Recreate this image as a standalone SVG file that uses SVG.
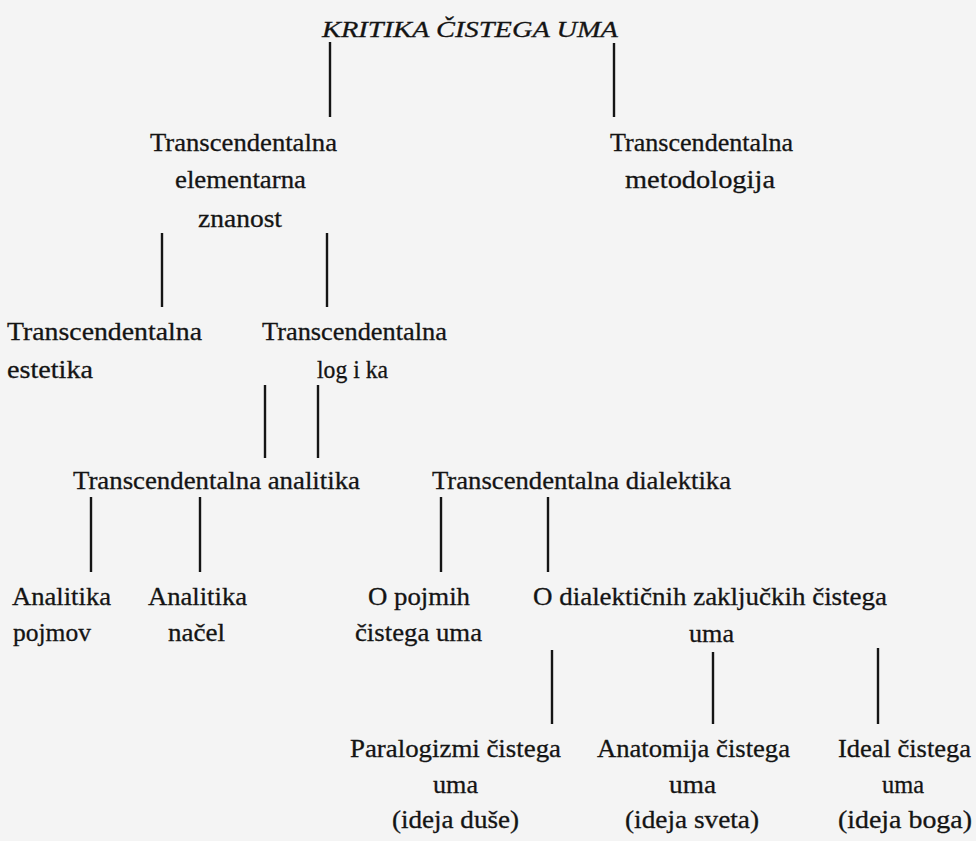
<svg xmlns="http://www.w3.org/2000/svg" width="976" height="841" viewBox="0 0 976 841">
<style>
  .t { font-family: "Liberation Serif", "Times New Roman", serif; font-size: 25px; fill: #141414; stroke: #141414; stroke-width: 0.3; }
  .ti { font-family: "Liberation Serif", "Times New Roman", serif; font-size: 24px; font-style: italic; fill: #141414; stroke: #141414; stroke-width: 0.3; }
  .c line { stroke: #141414; stroke-width: 2.4; }
</style>
<rect width="976" height="841" fill="#f4f4f4"/>

<g id="connectors" class="c">
  <line x1="330" y1="42" x2="330" y2="117"/>
  <line x1="614" y1="43" x2="614" y2="117"/>
  <line x1="162" y1="233" x2="162" y2="307"/>
  <line x1="327" y1="233" x2="327" y2="307"/>
  <line x1="265" y1="385" x2="265" y2="458"/>
  <line x1="318" y1="385" x2="318" y2="458"/>
  <line x1="91" y1="497" x2="91" y2="572"/>
  <line x1="200" y1="497" x2="200" y2="572"/>
  <line x1="441" y1="497" x2="441" y2="572"/>
  <line x1="548" y1="497" x2="548" y2="572"/>
  <line x1="552" y1="650" x2="552" y2="724"/>
  <line x1="713" y1="652" x2="713" y2="724"/>
  <line x1="878" y1="648" x2="878" y2="724"/>
</g>

<g id="kritika">
  <text class="ti" x="322" y="37" textLength="296" lengthAdjust="spacingAndGlyphs">KRITIKA ČISTEGA UMA</text>
</g>

<g id="elementarna">
  <text class="t" x="150" y="151" textLength="187" lengthAdjust="spacingAndGlyphs">Transcendentalna</text>
  <text class="t" x="175" y="188" textLength="131" lengthAdjust="spacingAndGlyphs">elementarna</text>
  <text class="t" x="198" y="227" textLength="84" lengthAdjust="spacingAndGlyphs">znanost</text>
</g>

<g id="metodologija">
  <text class="t" x="610" y="151" textLength="183" lengthAdjust="spacingAndGlyphs">Transcendentalna</text>
  <text class="t" x="625" y="188" textLength="150" lengthAdjust="spacingAndGlyphs">metodologija</text>
</g>

<g id="estetika">
  <text class="t" x="7" y="340" textLength="195" lengthAdjust="spacingAndGlyphs">Transcendentalna</text>
  <text class="t" x="7" y="378" textLength="86" lengthAdjust="spacingAndGlyphs">estetika</text>
</g>

<g id="logika">
  <text class="t" x="262" y="340" textLength="185" lengthAdjust="spacingAndGlyphs">Transcendentalna</text>
  <text class="t" x="317" y="378" textLength="71" lengthAdjust="spacingAndGlyphs">log i ka</text>
</g>

<g id="analitika">
  <text class="t" x="73" y="489" textLength="287" lengthAdjust="spacingAndGlyphs">Transcendentalna analitika</text>
</g>

<g id="dialektika">
  <text class="t" x="432" y="489" textLength="299" lengthAdjust="spacingAndGlyphs">Transcendentalna dialektika</text>
</g>

<g id="analitika-pojmov">
  <text class="t" x="12" y="605" textLength="99" lengthAdjust="spacingAndGlyphs">Analitika</text>
  <text class="t" x="13" y="641" textLength="78" lengthAdjust="spacingAndGlyphs">pojmov</text>
</g>

<g id="analitika-nacel">
  <text class="t" x="148" y="605" textLength="99" lengthAdjust="spacingAndGlyphs">Analitika</text>
  <text class="t" x="168" y="641" textLength="57" lengthAdjust="spacingAndGlyphs">načel</text>
</g>

<g id="o-pojmih">
  <text class="t" x="368" y="605" textLength="102" lengthAdjust="spacingAndGlyphs">O pojmih</text>
  <text class="t" x="355" y="641" textLength="127" lengthAdjust="spacingAndGlyphs">čistega uma</text>
</g>

<g id="o-dialekticnih">
  <text class="t" x="533" y="605" textLength="354" lengthAdjust="spacingAndGlyphs">O dialektičnih zaključkih čistega</text>
  <text class="t" x="689" y="642" textLength="45" lengthAdjust="spacingAndGlyphs">uma</text>
</g>

<g id="paralogizmi">
  <text class="t" x="350" y="757" textLength="211" lengthAdjust="spacingAndGlyphs">Paralogizmi čistega</text>
  <text class="t" x="433" y="793" textLength="45" lengthAdjust="spacingAndGlyphs">uma</text>
  <text class="t" x="392" y="828" textLength="127" lengthAdjust="spacingAndGlyphs">(ideja duše)</text>
</g>

<g id="anatomija">
  <text class="t" x="597" y="757" textLength="193" lengthAdjust="spacingAndGlyphs">Anatomija čistega</text>
  <text class="t" x="669" y="793" textLength="47" lengthAdjust="spacingAndGlyphs">uma</text>
  <text class="t" x="625" y="828" textLength="134" lengthAdjust="spacingAndGlyphs">(ideja sveta)</text>
</g>

<g id="ideal">
  <text class="t" x="838" y="757" textLength="133" lengthAdjust="spacingAndGlyphs">Ideal čistega</text>
  <text class="t" x="882" y="793" textLength="42" lengthAdjust="spacingAndGlyphs">uma</text>
  <text class="t" x="838" y="828" textLength="134" lengthAdjust="spacingAndGlyphs">(ideja boga)</text>
</g>
</svg>
